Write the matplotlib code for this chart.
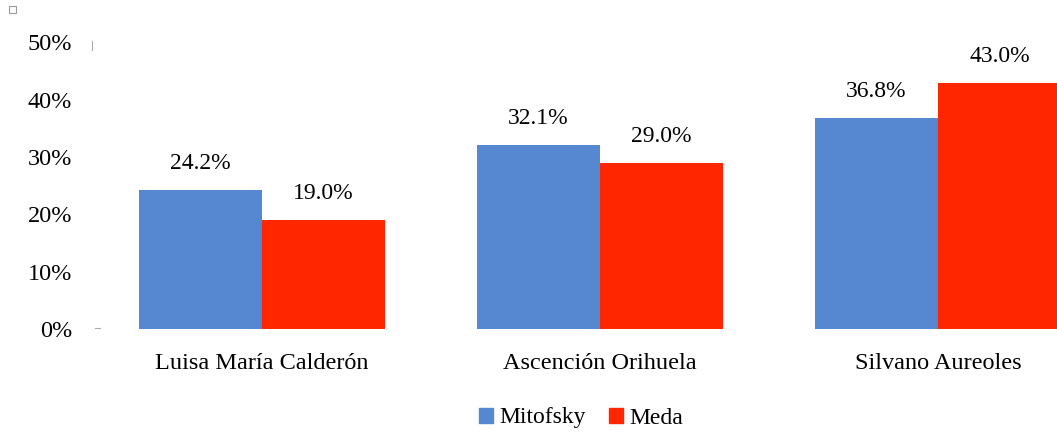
import matplotlib.pyplot as plt
import matplotlib.patches as mpatches
from matplotlib.lines import Line2D
from matplotlib.ticker import FuncFormatter
import numpy as np

plt.rcParams['font.family'] = ['Liberation Serif', 'DejaVu Serif']

candidates = ["Luisa María Calderón", "Ascención Orihuela", "Silvano Aureoles"]
series_names = ["Mitofsky", "Meda"]
mitofsky = [24.2, 32.1, 36.8]
meda = [19.0, 29.0, 43.0]
y_ticks = [0, 10, 20, 30, 40, 50]

colors = ["#5687D1", "#FF2600"]

fig = plt.figure(figsize=(10.57, 4.34), dpi=100)
ax = fig.add_axes([93 / 1057, 105 / 434, 1014 / 1057, 286.5 / 434])

x = np.arange(len(candidates))
w = 0.364
for vals, off, c in [(mitofsky, -w / 2, colors[0]), (meda, w / 2, colors[1])]:
    bars = ax.bar(x + off, vals, width=w, color=c, linewidth=0)
    for b, v in zip(bars, vals):
        ax.annotate(f"{v:.1f}%", (b.get_x() + b.get_width() / 2, v),
                    xytext=(0, 19), textcoords="offset points",
                    ha="center", va="center", fontsize=17)

ax.set_xlim(-0.5, 2.5)
ax.set_ylim(0, 50)
ax.set_yticks(y_ticks)
ax.yaxis.set_major_formatter(FuncFormatter(lambda v, p: f"{v:.0f}%"))
ax.set_xticks(x)
ax.set_xticklabels(candidates)
ax.tick_params(axis="both", length=0, labelsize=17.5)
ax.tick_params(axis="y", pad=15)
ax.tick_params(axis="x", pad=17)
for s in ax.spines.values():
    s.set_visible(False)

# small marks around the plot frame
fig.add_artist(Line2D([92 / 1057, 92 / 1057], [1 - 41 / 434, 1 - 50 / 434],
                      color="#aaaaaa", lw=0.8))
fig.add_artist(Line2D([95 / 1057, 100 / 1057], [1 - 328 / 434, 1 - 328 / 434],
                      color="#aaaaaa", lw=0.8))
fig.add_artist(mpatches.Rectangle((9 / 1057, 1 - 13 / 434), 7 / 1057, 7 / 434,
                                  fill=False, edgecolor="#999999", lw=0.8))

handles = [mpatches.Patch(color=c, label=n) for c, n in zip(colors, series_names)]
fig.legend(handles=handles, loc="center", bbox_to_anchor=(581 / 1057, 1 - 418 / 434),
           ncol=2, frameon=False, fontsize=17, handlelength=0.6, handleheight=0.6,
           handletextpad=0.25, columnspacing=1.0)

fig.savefig("out.png", dpi=100)
